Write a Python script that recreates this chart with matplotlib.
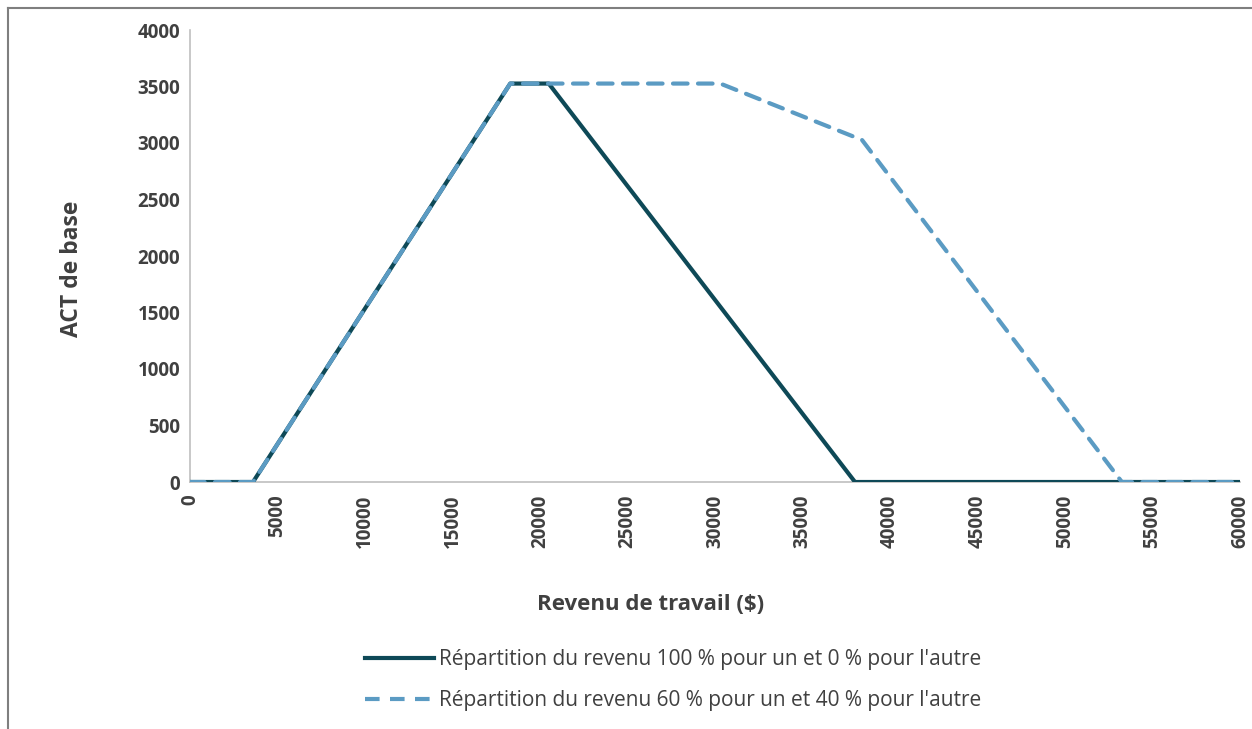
import numpy as np
import matplotlib.pyplot as plt
from matplotlib.lines import Line2D

# points de rupture
revenu_100_0 = [0, 3600, 18300, 20500, 38000, 60000]
act_100_0 = [0, 0, 3526, 3526, 0, 0]

revenu_60_40 = [0, 3600, 18300, 30300, 38400, 53250, 60000]
act_60_40 = [0, 0, 3526, 3526, 3027, 0, 0]

x_ticks = list(range(0, 60001, 5000))
y_ticks = list(range(0, 4001, 500))

noms = ["Répartition du revenu 100 % pour un et 0 % pour l'autre",
        "Répartition du revenu 60 % pour un et 40 % pour l'autre"]

fonce = '#0E4957'
clair = '#5B9BC3'
gris = '#404040'

plt.rcParams['font.family'] = ['Open Sans', 'DejaVu Sans']

fig = plt.figure(figsize=(12.52, 7.29), dpi=100)
W, H = 1252, 729
ax = fig.add_axes([190 / W, 1 - 482 / H, (1240 - 190) / W, (482 - 30) / H])

ax.plot(revenu_100_0, act_100_0, color=fonce, lw=3, solid_capstyle='round', zorder=3)
ax.plot(revenu_60_40, act_60_40, color=clair, lw=3, ls=(0, (3.5, 2.5)),
        dash_capstyle='round', zorder=4)

ax.set_xlim(0, 60000)
ax.set_ylim(0, 4000)
ax.set_xticks(x_ticks)
ax.set_yticks(y_ticks)
ax.set_xticklabels([str(v) for v in x_ticks], rotation=90, fontsize=13.5,
                   fontweight='bold', color=gris)
ax.set_yticklabels([str(v) for v in y_ticks], fontsize=13.5, fontweight='bold', color=gris)
ax.tick_params(axis='y', length=0, pad=7)
ax.tick_params(axis='x', length=0, pad=9)
for s in ['top', 'right']:
    ax.spines[s].set_visible(False)
for s in ['left', 'bottom']:
    ax.spines[s].set_color('#BFBFBF')
    ax.spines[s].set_linewidth(1.2)

fig.text(72 / W, 1 - 269 / H, 'ACT de base', rotation=90, ha='center', va='center',
         fontsize=16.5, fontweight='bold', color=gris)
fig.text(651 / W, 1 - 604 / H, 'Revenu de travail ($)', ha='center', va='center',
         fontsize=16, fontweight='bold', color=gris)

handles = [Line2D([], [], color=fonce, lw=3),
           Line2D([], [], color=clair, lw=3, ls=(0, (3.5, 2.5)))]
leg = fig.legend(handles, noms, loc='center', bbox_to_anchor=(673 / W, 1 - 680 / H),
                 frameon=False, fontsize=15, handlelength=3.3, handletextpad=0.25,
                 labelspacing=0.95, labelcolor=gris)

# cadre du graphique (seuls haut et gauche visibles)
fig.add_artist(Line2D([8 / W, 8 / W], [0, 1 - 8 / H], color='#7F7F7F', lw=1.5))
fig.add_artist(Line2D([8 / W, 1], [1 - 8 / H, 1 - 8 / H], color='#7F7F7F', lw=1.5))

fig.savefig('out.png', dpi=100, facecolor='white')
